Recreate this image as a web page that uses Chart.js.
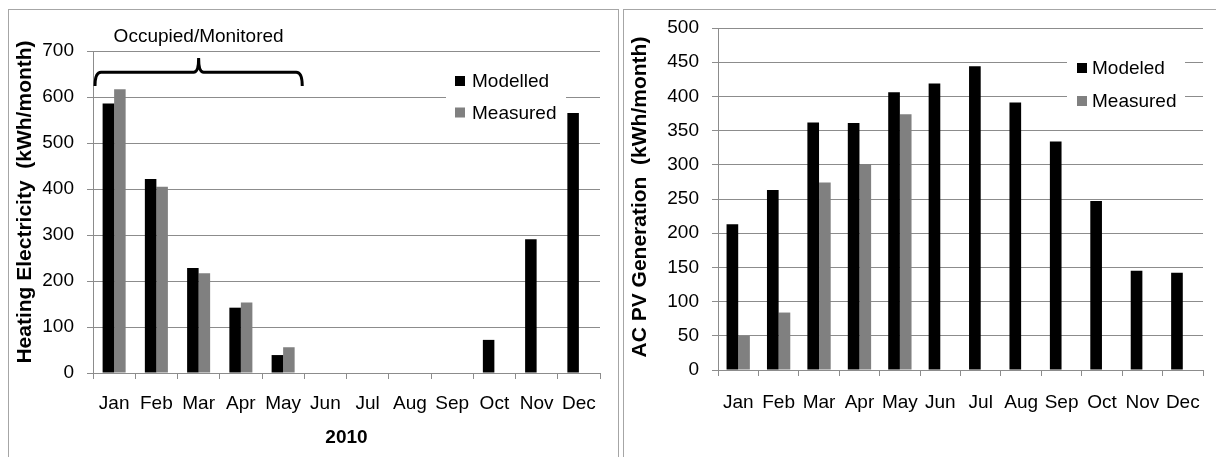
<!DOCTYPE html>
<html lang="en">
<head>
  <meta charset="UTF-8" />
  <title>Heating Electricity &amp; AC PV Generation</title>
  <script src="https://cdn.jsdelivr.net/npm/chart.js"></script>
  <style>
    body { margin: 0; width: 1216px; height: 457px; overflow: hidden; background: #fff; font-family: "Liberation Sans", Arial, sans-serif; }
    .panel { position: absolute; border: 1px solid #a6a6a6; background: #fff; }
    #panel-left { left: 8px; top: 9px; width: 609px; height: 460px; }
    #panel-right { left: 623px; top: 9px; width: 600px; height: 460px; }
    .wrap { position: absolute; top: 0; height: 457px; }
    #wrap-left { left: 0; width: 618px; }
    #wrap-right { left: 620px; width: 596px; }
  </style>
</head>
<body>
  <div class="panel" id="panel-left"></div>
  <div class="panel" id="panel-right"></div>
  <div class="wrap" id="wrap-left"><canvas id="heatChart"></canvas></div>
  <div class="wrap" id="wrap-right"><canvas id="pvChart"></canvas></div>

  <script>
    // data
    const months = ['Jan','Feb','Mar','Apr','May','Jun','Jul','Aug','Sep','Oct','Nov','Dec'];
    const heatModelled = [586, 422, 228, 142, 39, 0, 0, 0, 0, 72, 291, 565];
    const heatMeasured = [617, 405, 217, 153, 56, null, null, null, null, null, null, null];
    const heatTicks = [0, 100, 200, 300, 400, 500, 600, 700];
    const pvModeled = [213, 263, 362, 361, 406, 419, 444, 391, 334, 247, 145, 142];
    const pvMeasured = [50, 84, 274, 301, 374, null, null, null, null, null, null, null];
    const pvTicks = [0, 50, 100, 150, 200, 250, 300, 350, 400, 450, 500];

    const FONT = '"Liberation Sans", Arial, sans-serif';
    const GRID = '#8c8c8c';
    Chart.defaults.font.family = FONT;
    Chart.defaults.color = '#000';
    Chart.defaults.animation = false;

    // white legend box drawn inside the plot, over the gridlines
    const boxLegend = {
      id: 'boxLegend',
      afterDatasetsDraw(chart, args, o) {
        const ctx = chart.ctx;
        ctx.save();
        ctx.fillStyle = '#fff';
        ctx.fillRect(o.x, o.y, o.w, o.h);
        ctx.font = '19px ' + FONT;
        ctx.textBaseline = 'middle';
        chart.data.datasets.forEach((ds, i) => {
          const cy = o.firstY + i * o.rowGap;
          ctx.fillStyle = ds.backgroundColor;
          ctx.fillRect(o.sqX, cy - 5, 10, 10);
          ctx.fillStyle = '#000';
          ctx.fillText(ds.label, o.textX, cy + 1);
        });
        ctx.restore();
      }
    };

    // rotated y title, centred a bit off the plot middle like the original
    const yTitle = {
      id: 'yTitle',
      afterDraw(chart, args, o) {
        const ca = chart.chartArea, ctx = chart.ctx;
        ctx.save();
        ctx.translate(o.x, (ca.top + ca.bottom) / 2 + o.dy);
        ctx.rotate(-Math.PI / 2);
        ctx.font = 'bold 21px ' + FONT;
        ctx.fillStyle = '#000';
        ctx.textAlign = 'center';
        ctx.textBaseline = 'middle';
        ctx.fillText(o.text, 0, 0);
        ctx.restore();
      }
    };

    // bracket over the occupied months
    const bracket = {
      id: 'bracket',
      afterDraw(chart, args, o) {
        if (!o.show) return;
        const xs = chart.scales.x, ys = chart.scales.y;
        const half = (xs.getPixelForValue(1) - xs.getPixelForValue(0)) / 2;
        const x0 = xs.getPixelForValue(0) - half + 2;
        const x1 = xs.getPixelForValue(4) + half - 2;
        const xm = (x0 + x1) / 2;
        const yLine = ys.getPixelForValue(654), yEnd = ys.getPixelForValue(624), yTop = ys.getPixelForValue(685);
        const ctx = chart.ctx;
        ctx.save();
        ctx.strokeStyle = '#000';
        ctx.lineWidth = 3;
        ctx.beginPath();
        ctx.moveTo(x0, yEnd);
        ctx.quadraticCurveTo(x0, yLine, x0 + 6, yLine);
        ctx.lineTo(xm - 5, yLine);
        ctx.quadraticCurveTo(xm, yLine, xm, yTop);
        ctx.quadraticCurveTo(xm, yLine, xm + 5, yLine);
        ctx.lineTo(x1 - 6, yLine);
        ctx.quadraticCurveTo(x1, yLine, x1, yEnd);
        ctx.stroke();
        ctx.fillStyle = '#000';
        ctx.font = '19px ' + FONT;
        ctx.textAlign = 'center';
        ctx.textBaseline = 'middle';
        ctx.fillText('Occupied/Monitored', xm, ys.getPixelForValue(730));
        ctx.restore();
      }
    };

    function makeChart(id, cfg) {
      return new Chart(document.getElementById(id), {
        type: 'bar',
        data: {
          labels: months,
          datasets: [
            { label: cfg.names[0], data: cfg.series[0], backgroundColor: '#000000' },
            { label: cfg.names[1], data: cfg.series[1], backgroundColor: '#808080' }
          ]
        },
        options: {
          responsive: true,
          maintainAspectRatio: false,
          categoryPercentage: cfg.catPct,
          barPercentage: 1,
          layout: { padding: cfg.pad },
          plugins: {
            legend: { display: false },
            tooltip: { enabled: false },
            boxLegend: cfg.legend,
            yTitle: cfg.yTitle,
            bracket: { show: cfg.bracket }
          },
          scales: {
            x: {
              afterFit: s => { s.height = cfg.xHeight; },
              grid: { offset: true, drawOnChartArea: false, drawTicks: true, tickLength: 6, color: GRID },
              border: { color: GRID },
              ticks: { autoSkip: false, maxRotation: 0, padding: cfg.xPad, font: { size: 19 } },
              title: cfg.xTitle ? { display: true, text: cfg.xTitle, font: { size: 19, weight: 'bold' }, padding: { top: 0, bottom: 8 } } : { display: false }
            },
            y: {
              min: 0,
              max: cfg.ticks[cfg.ticks.length - 1],
              afterFit: s => { s.width = cfg.yWidth; },
              afterBuildTicks: s => { s.ticks = cfg.ticks.map(v => ({ value: v })); },
              grid: { color: GRID, tickLength: 6 },
              border: { color: GRID },
              ticks: { padding: 13, font: { size: 19 } }
            }
          }
        },
        plugins: [boxLegend, yTitle, bracket]
      });
    }

    makeChart('heatChart', {
      names: ['Modelled', 'Measured'],
      series: [heatModelled, heatMeasured],
      ticks: heatTicks,
      catPct: 0.545,
      pad: { left: 0, right: 18, top: 51, bottom: 0 },
      xHeight: 84, yWidth: 93, xPad: 13,
      xTitle: '2010',
      yTitle: { text: 'Heating Electricity  (kWh/month)', x: 25, dy: -10 },
      bracket: true,
      legend: { x: 446, y: 62, w: 120, h: 66, sqX: 455, textX: 472, firstY: 81, rowGap: 31.5 }
    });

    makeChart('pvChart', {
      names: ['Modeled', 'Measured'],
      series: [pvModeled, pvMeasured],
      ticks: pvTicks,
      catPct: 0.577,
      pad: { left: 0, right: 13, top: 28, bottom: 0 },
      xHeight: 87, yWidth: 98, xPad: 15,
      xTitle: null,
      yTitle: { text: 'AC PV Generation  (kWh/month)', x: 20, dy: -2 },
      bracket: false,
      legend: { x: 447, y: 46, w: 118, h: 70, sqX: 457, textX: 472, firstY: 68, rowGap: 33 }
    });
  </script>
</body>
</html>
